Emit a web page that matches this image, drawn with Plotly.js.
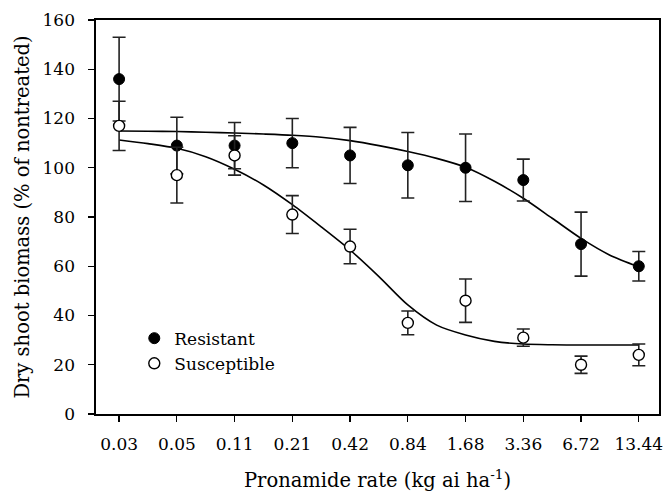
<!DOCTYPE html>
<html>
<head>
<meta charset="utf-8">
<script src="https://cdn.plot.ly/plotly-3.0.1.min.js"></script>
<style>html,body{margin:0;padding:0;background:#fff;}#chart{width:665px;height:493px;}</style>
</head>
<body>
<div id="chart"></div>
<script>
// Pronamide rates (kg ai/ha) plotted on a log axis, and their printed tick labels
const doses = [0.02625, 0.0525, 0.105, 0.21, 0.42, 0.84, 1.68, 3.36, 6.72, 13.44];
const tickLabels = ["0.03", "0.05", "0.11", "0.21", "0.42", "0.84", "1.68", "3.36", "6.72", "13.44"];
const yTicks = [0, 20, 40, 60, 80, 100, 120, 140, 160];

// Observed means and standard errors (% of nontreated)
const resistantMean = [136, 109, 109, 110, 105, 101, 100, 95, 69, 60];
const resistantErr  = [17, 11.5, 9.4, 10, 11.4, 13.3, 13.7, 8.5, 13, 6];
const susceptibleMean = [117, 97, 105, 81, 68, 37, 46, 31, 20, 24];
const susceptibleErr  = [10, 11.3, 8, 7.7, 7, 4.8, 8.8, 3.5, 3.5, 4.4];

// Fitted curves
const curveX = [0.02625, 0.0371, 0.0525, 0.0742, 0.105, 0.1485, 0.21, 0.297, 0.42, 0.594, 0.84, 1.188, 1.68, 2.376, 3.36, 4.752, 6.72, 9.504, 13.44];
const resistantCurve = [114.9, 114.8, 114.7, 114.4, 114.1, 113.7, 113.2, 112.4, 111.0, 109.0, 106.6, 103.8, 100.2, 94.5, 87.6, 79.5, 71.3, 64.5, 59.8];
const susceptibleCurve = [111.3, 109.8, 107.9, 104.5, 99.4, 93.0, 85.0, 76.0, 66.6, 55.8, 44.3, 36.1, 32.1, 29.5, 28.4, 28.1, 28.0, 28.0, 28.0];

const FONT = "DejaVu Serif";
const lg2 = Math.log10(2);

const traces = [
  {x: curveX, y: resistantCurve, type: "scatter", mode: "lines", line: {color: "#000", width: 1.6, shape: "spline", smoothing: 0.8}, showlegend: false, hoverinfo: "skip"},
  {x: curveX, y: susceptibleCurve, type: "scatter", mode: "lines", line: {color: "#000", width: 1.6, shape: "spline", smoothing: 0.8}, showlegend: false, hoverinfo: "skip"},
  {x: doses, y: resistantMean, name: "Resistant", type: "scatter", mode: "markers",
   marker: {symbol: "circle", size: 11, color: "#000", line: {color: "#000", width: 1}},
   error_y: {type: "data", array: resistantErr, visible: true, color: "#222", thickness: 1.6, width: 6.5}},
  {x: doses, y: susceptibleMean, name: "Susceptible", type: "scatter", mode: "markers",
   marker: {symbol: "circle", size: 11, color: "#fff", line: {color: "#000", width: 1.4}},
   error_y: {type: "data", array: susceptibleErr, visible: true, color: "#222", thickness: 1.6, width: 6.5}}
];

const layout = {
  width: 665, height: 493,
  margin: {l: 96, r: 6, t: 20, b: 79},
  paper_bgcolor: "#fff", plot_bgcolor: "#fff",
  font: {family: FONT, size: 17, color: "#000"},
  showlegend: true,
  legend: {x: 0.068, y: 0.237, xanchor: "left", yanchor: "top", bgcolor: "rgba(0,0,0,0)",
           font: {family: FONT, size: 17, color: "#000"}, tracegroupgap: 0, itemwidth: 30},
  xaxis: {
    type: "log",
    range: [Math.log10(doses[0]) - 0.40 * lg2, Math.log10(doses[doses.length - 1]) + 0.35 * lg2],
    tickmode: "array", tickvals: doses, ticktext: tickLabels,
    ticks: "outside", ticklen: 6, tickwidth: 1.3, tickcolor: "#000",
    showline: true, linecolor: "#000", linewidth: 1.6, mirror: true,
    showgrid: false, zeroline: false,
    tickfont: {family: FONT, size: 17, color: "#000"},
    ticklabelstandoff: 8,
    title: {text: "Pronamide rate (kg ai ha<sup>-1</sup>)", font: {family: FONT, size: 19.5, color: "#000"}, standoff: 20}
  },
  yaxis: {
    range: [0, 160], tickmode: "array", tickvals: yTicks,
    ticks: "outside", ticklen: 6, tickwidth: 1.3, tickcolor: "#000",
    showline: true, linecolor: "#000", linewidth: 1.6, mirror: true,
    showgrid: false, zeroline: false,
    tickfont: {family: FONT, size: 17, color: "#000"},
    ticklabelstandoff: 10,
    title: {text: "Dry shoot biomass (% of nontreated)", font: {family: FONT, size: 19.5, color: "#000"}, standoff: 8}
  }
};

Plotly.newPlot("chart", traces, layout, {displayModeBar: false, staticPlot: true});
</script>
</body>
</html>
